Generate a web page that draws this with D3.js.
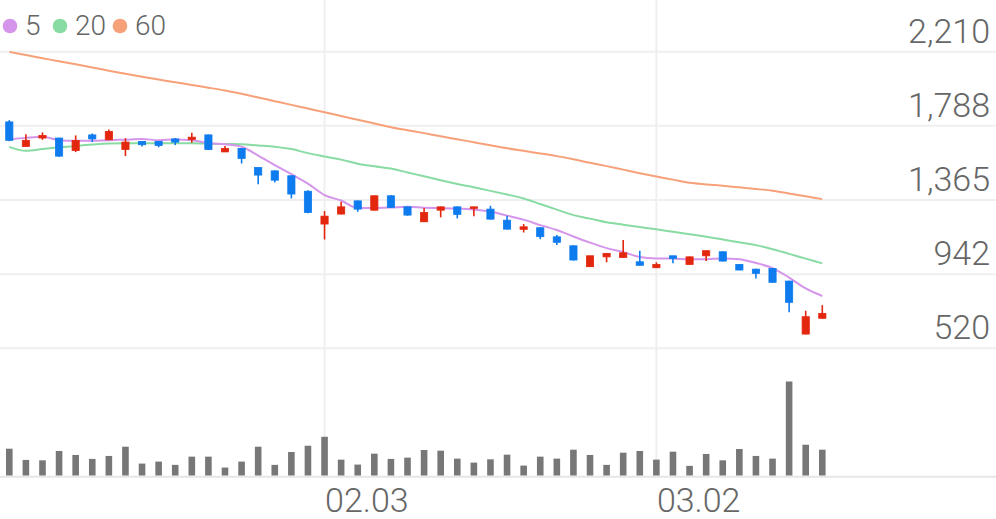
<!DOCTYPE html>
<html>
<head>
<meta charset="utf-8">
<script src="https://cdn.jsdelivr.net/npm/d3@7"></script>
<style>
  html, body { margin: 0; padding: 0; background: #fff; }
  svg { display: block; font-family: Roboto, "Noto Sans", sans-serif; }
</style>
</head>
<body>
<svg id="chart"></svg>
<script>
var width = 996,
    height = 519;

// trading days (2020)
var dates = ["2020-01-03","2020-01-06","2020-01-07","2020-01-08","2020-01-09","2020-01-10","2020-01-13","2020-01-14","2020-01-15","2020-01-16",
  "2020-01-17","2020-01-20","2020-01-21","2020-01-22","2020-01-23","2020-01-28","2020-01-29","2020-01-30","2020-01-31","2020-02-03",
  "2020-02-04","2020-02-05","2020-02-06","2020-02-07","2020-02-10","2020-02-11","2020-02-12","2020-02-13","2020-02-14","2020-02-17",
  "2020-02-18","2020-02-19","2020-02-20","2020-02-21","2020-02-24","2020-02-25","2020-02-26","2020-02-27","2020-02-28","2020-03-02",
  "2020-03-03","2020-03-04","2020-03-05","2020-03-06","2020-03-09","2020-03-10","2020-03-11","2020-03-12","2020-03-13","2020-03-16"];

var opens  = [1810,1670,1718,1718,1647,1736,1708,1653,1699,1699,1713,1710,1736,1639,1659,1550,1531,1503,1415,1228,1285,1360,1307,1389,1326,1241,1307,1326,1317,1313,1250,1198,1207,1155,1104,985,1041,1038,1013,979,1047,998,1047,1070,998,971,975,903,601,691];
var highs  = [1820,1740,1750,1720,1733,1744,1767,1717,1700,1700,1718,1748,1738,1672,1661,1552,1533,1505,1421,1302,1355,1362,1390,1392,1328,1320,1327,1328,1327,1332,1275,1228,1209,1165,1106,1048,1062,1137,1076,1010,1048,1043,1077,1073,1000,973,977,905,734,766];
var lows   = [1700,1670,1708,1612,1638,1695,1706,1615,1670,1665,1678,1691,1650,1638,1573,1455,1465,1374,1290,1140,1283,1298,1305,1320,1275,1240,1266,1260,1273,1254,1197,1180,1142,1108,1020,983,1010,1036,992,978,1004,996,1017,1015,965,918,894,725,600,690];
var closes = [1705,1705,1733,1615,1704,1713,1756,1695,1680,1676,1695,1723,1653,1659,1602,1507,1478,1399,1294,1273,1326,1313,1389,1323,1279,1294,1326,1283,1326,1256,1199,1212,1156,1124,1023,1047,1061,1064,993,998,1032,1041,1076,1017,966,947,896,782,700,719];
var volumes = [270,157,153,247,207,167,197,290,120,140,107,190,190,80,140,290,107,237,300,390,160,110,220,167,180,257,250,170,130,163,210,100,190,170,260,207,107,230,247,160,240,97,217,153,267,197,170,947,310,260];

// moving averages
var ma5  = [1710,1719,1725,1706,1702,1702,1706,1709,1712,1706,1710,1706,1689,1683,1668,1618,1564,1512,1458,1393,1362,1319,1320,1322,1326,1321,1319,1316,1310,1299,1276,1253,1222,1194,1157,1122,1091,1068,1040,1032,1031,1027,1028,1032,1028,1006,977,923,861,818];
var ma20 = [1668,1645,1655,1665,1673,1681,1687,1688,1688,1688,1688,1688,1686,1684,1683,1676,1669,1655,1632,1613,1595,1572,1557,1544,1522,1500,1478,1456,1438,1417,1396,1374,1342,1310,1279,1259,1238,1224,1211,1198,1184,1170,1156,1140,1124,1108,1084,1058,1031,1004];
var ma60 = [2209,2191,2173,2155,2138,2120,2102,2084,2067,2051,2036,2020,2005,1989,1970,1949,1928,1907,1886,1865,1844,1822,1801,1780,1763,1746,1728,1711,1694,1677,1660,1645,1630,1615,1597,1577,1558,1538,1518,1499,1481,1463,1454,1446,1437,1428,1418,1402,1386,1370];

var yTicks = [520, 942, 1365, 1788, 2210];
var xTickDates = ["2020-02-03", "2020-03-02"];
var maNames = ["5", "20", "60"];
var maColors = ["#d495ea", "#88dba2", "#f7a17a"];

var upColor = "#e3270e",
    downColor = "#0e7bee";

var svg = d3.select("#chart")
    .attr("width", width)
    .attr("height", height);

var x = d3.scaleLinear()
    .domain([0, dates.length - 1])
    .range([9.3, 822.3]);

var y = d3.scaleLinear()
    .domain([520, 2210])
    .range([348.3, 51.7]);

var volBase = 475.5;
var yVol = d3.scaleLinear()
    .domain([0, d3.max(volumes)])
    .range([volBase, 381.5]);

// horizontal grid
svg.append("g")
  .selectAll("line")
  .data(yTicks)
  .join("line")
    .attr("x1", 0)
    .attr("x2", width)
    .attr("y1", function(d) { return y(d); })
    .attr("y2", function(d) { return y(d); })
    .attr("stroke", "#efefef")
    .attr("stroke-width", 2);

// vertical grid at month starts
var tickIdx = xTickDates.map(function(d) { return dates.indexOf(d); });
svg.append("g")
  .selectAll("line")
  .data(tickIdx)
  .join("line")
    .attr("x1", function(d) { return x(d); })
    .attr("x2", function(d) { return x(d); })
    .attr("y1", 0)
    .attr("y2", volBase)
    .attr("stroke", "#efefef")
    .attr("stroke-width", 2);

// volume baseline
svg.append("line")
    .attr("x1", 0).attr("x2", width)
    .attr("y1", volBase + 1.2).attr("y2", volBase + 1.2)
    .attr("stroke", "#e6e6e6")
    .attr("stroke-width", 2);

// y labels
svg.append("g")
  .selectAll("text")
  .data(yTicks)
  .join("text")
    .attr("x", 990)
    .attr("y", function(d) { return y(d) - 9; })
    .attr("text-anchor", "end")
    .attr("fill", "#666")
    .style("font-size", "34px")
    .style("font-weight", 300)
    .text(function(d) { return d3.format(",")(d); });

// x labels
var parse = d3.timeParse("%Y-%m-%d"),
    fmt = d3.timeFormat("%m.%d");
svg.append("g")
  .selectAll("text")
  .data(tickIdx)
  .join("text")
    .attr("x", function(d) { return x(d) + 0.5; })
    .attr("y", 512)
    .attr("fill", "#666")
    .style("font-size", "34px")
    .style("font-weight", 300)
    .text(function(d) { return fmt(parse(dates[d])); });

// volume bars
svg.append("g")
  .selectAll("rect")
  .data(volumes)
  .join("rect")
    .attr("x", function(d, i) { return x(i) - 3.3; })
    .attr("width", 6.6)
    .attr("y", function(d) { return yVol(d); })
    .attr("height", function(d) { return volBase - yVol(d); })
    .attr("fill", "#777");

// moving averages
var line = d3.line()
    .x(function(d, i) { return x(i); })
    .y(function(d) { return y(d); })
    .curve(d3.curveMonotoneX);

[ma60, ma20, ma5].forEach(function(s, k) {
  svg.append("path")
    .datum(s)
    .attr("d", line)
    .attr("fill", "none")
    .attr("stroke", maColors[2 - k])
    .attr("stroke-width", 2);
});

// candles
var candles = svg.append("g")
  .selectAll("g")
  .data(d3.range(dates.length))
  .join("g")
    .attr("fill", function(i) { return closes[i] >= opens[i] ? upColor : downColor; })
    .attr("stroke", function(i) { return closes[i] >= opens[i] ? upColor : downColor; });

candles.append("line")
    .attr("x1", function(i) { return x(i); })
    .attr("x2", function(i) { return x(i); })
    .attr("y1", function(i) { return y(highs[i]); })
    .attr("y2", function(i) { return y(lows[i]); })
    .attr("stroke-width", 1.6);

candles.append("rect")
    .attr("x", function(i) { return x(i) - 3.6; })
    .attr("width", 7.2)
    .attr("y", function(i) { return y(Math.max(opens[i], closes[i])); })
    .attr("height", function(i) { return Math.max(1.5, Math.abs(y(opens[i]) - y(closes[i]))); })
    .attr("stroke-width", 0.8);

// legend
var legend = svg.append("g");
var legendX = [10, 60, 120];
legend.selectAll("circle")
  .data(maNames)
  .join("circle")
    .attr("cx", function(d, i) { return legendX[i]; })
    .attr("cy", 26)
    .attr("r", 7.3)
    .attr("fill", function(d, i) { return maColors[i]; });
legend.selectAll("text")
  .data(maNames)
  .join("text")
    .attr("x", function(d, i) { return legendX[i] + 15; })
    .attr("y", 35)
    .attr("fill", "#666")
    .style("font-size", "28px")
    .style("font-weight", 300)
    .text(function(d) { return d; });
</script>
</body>
</html>
